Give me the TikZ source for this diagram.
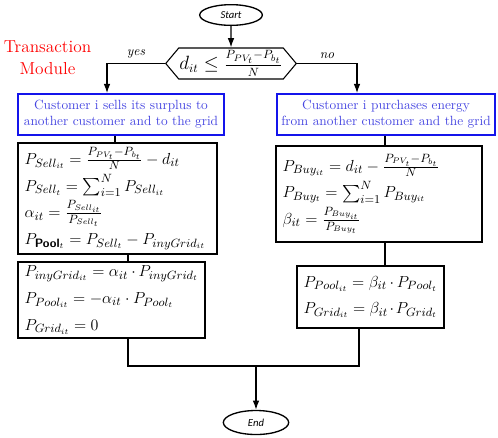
\documentclass[tikz,border=0pt]{standalone}
\usepackage{amsmath,amssymb}
\usepackage{fontspec}
\newfontfamily\carlito{Carlito}
\usepackage{tikz}
\usetikzlibrary{arrows.meta,positioning,shapes.geometric,shapes.symbols}
\definecolor{boxblue}{RGB}{20,20,235}
\definecolor{textblue}{RGB}{70,70,225}

\begin{document}
\begin{tikzpicture}[x=0.75pt,y=-0.75pt,>=Latex,
 term/.style={ellipse,draw,line width=1pt,inner sep=0pt,font=\carlito\itshape\footnotesize},
 choice/.style={signal,signal to=west and east,signal pointer angle=100,draw,line width=0.8pt,inner sep=0.5pt,font=\fontsize{13.5}{16}\selectfont},
 taskbox/.style={rectangle,draw=boxblue,line width=1.2pt,align=center,text=textblue,inner sep=0pt},
 calcbox/.style={rectangle,draw,line width=1.2pt,align=left,inner xsep=5pt,inner ysep=0pt,font=\fontsize{13}{20}\selectfont},
 flow/.style={-{Latex[length=7pt,width=5pt]},line width=1pt},
 link/.style={line width=1pt}]
\useasboundingbox (0,0) rectangle (498,437);
% terminals and decision
\node[term,minimum width=47pt,minimum height=15.5pt] (start) at (231,15) {Start};
\node[choice,minimum width=95pt,minimum height=23.25pt] (dec) at (231,63.5) {$d_{it} \leq \frac{P_{PV_t}-P_{b_t}}{N}$};
\node[term,minimum width=49pt,minimum height=18pt] (end) at (256,422.5) {End};
\node[text=red,align=center,font=\fontsize{13}{16.5}\selectfont] (title) at (47.5,58) {Transaction\\Module};
% seller branch
\node[taskbox,minimum width=154.5pt,minimum height=30.75pt] (sell) at (121,114.5) {Customer i sells its surplus to\\another customer and to the grid};
\node[calcbox,text width=139.25pt,minimum height=83.25pt] (sellcalc) at (117.5,198.5) {%
 $P_{Sell_{it}} = \frac{P_{PV_t}-P_{b_t}}{N} - d_{it}$\\
 $P_{Sell_t} = \sum_{i=1}^{N} P_{Sell_{it}}$\\
 $\alpha_{it} = \frac{P_{Sell_{it}}}{P_{Sell_t}}$\\
 $P_{\textsf{\bfseries Pool}_t} = P_{Sell_t} - P_{inyGrid_{it}}$};
\node[calcbox,text width=130.25pt,minimum height=57pt] (sellsplit) at (111.5,300) {%
 $P_{inyGrid_{it}} = \alpha_{it} \cdot P_{inyGrid_t}$\\
 $P_{Pool_{it}} = -\alpha_{it} \cdot P_{Pool_t}$\\
 $P_{Grid_{it}} = 0$};
% buyer branch
\node[taskbox,minimum width=163.5pt,minimum height=30.75pt] (buy) at (386,114.5) {Customer i purchases energy\\from another customer and the grid};
\node[calcbox,text width=144.5pt,minimum height=72pt] (buycalc) at (379,194) {%
 $P_{Buy_{it}} = d_{it} - \frac{P_{PV_t}-P_{b_t}}{N}$\\
 $P_{Buy_t} = \sum_{i=1}^{N} P_{Buy_{it}}$\\
 $\beta_{it} = \frac{P_{Buy_{it}}}{P_{Buy_t}}$};
\node[calcbox,text width=100.25pt,minimum height=46.5pt] (buysplit) at (370.5,297) {%
 $P_{Pool_{it}} = \beta_{it} \cdot P_{Pool_t}$\\
 $P_{Grid_{it}} = \beta_{it} \cdot P_{Grid_t}$};
\coordinate (merge) at (256,366);
% connectors
\draw[flow] (start) -- (dec);
\draw[flow] (dec.west) -| ([xshift=-10.5pt]sell.north) node[pos=0.25,above,font=\itshape] {yes};
\draw[flow] (dec.east) -| ([xshift=-21.75pt]buy.north) node[pos=0.25,above,font=\itshape] {no};
\draw[link] (sell.south -| 115,0) -- (sellcalc.north -| 115,0);
\draw[link] (sellcalc.south -| 128,0) -- (sellsplit.north -| 128,0);
\draw[link] (buy.south -| 385,0) -- (buycalc.north -| 385,0);
\draw[link] (buycalc.south -| 385,0) -- (buysplit.north -| 385,0);
\draw[link] (sellsplit.south -| 128,0) |- (merge);
\draw[link] (buysplit.south -| 359,0) |- (merge);
\draw[flow] (merge) -- (end);
\end{tikzpicture}
\end{document}
